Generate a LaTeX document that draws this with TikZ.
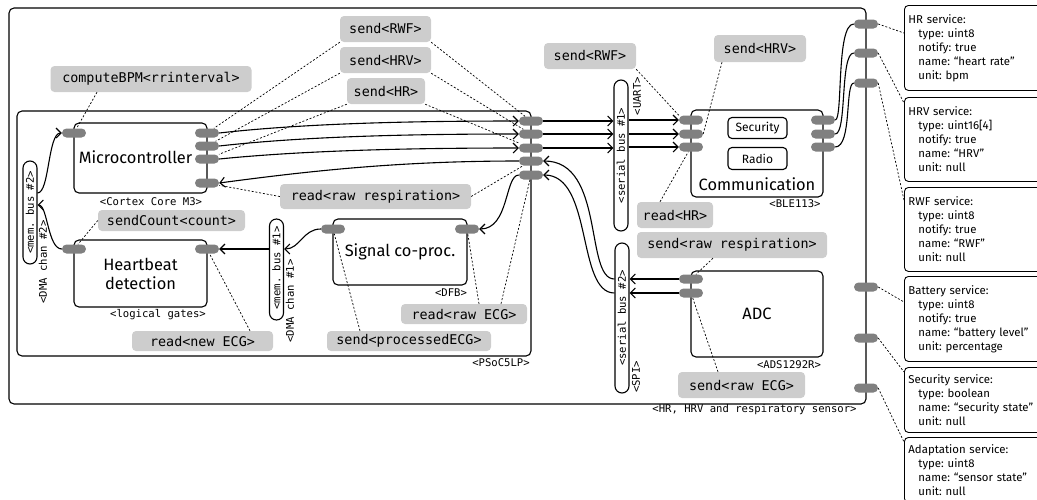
\documentclass[tikz,border=0pt]{standalone}
\usepackage{fontspec}
\setmainfont{Fira Sans}
\setmonofont{DejaVu Sans Mono}
\usetikzlibrary{arrows.meta,calc}
\definecolor{portgray}{RGB}{128,128,128}
\definecolor{lblgray}{RGB}{205,205,205}
\newcommand\svind{\hspace*{10pt}}
\frenchspacing
\begin{document}
\begin{tikzpicture}[x=1pt,y=-1pt,
  every node/.style={inner sep=0pt},
  box/.style={draw,line width=1.1pt,rounded corners=5pt},
  bus/.style={draw,line width=1.1pt,rounded corners=7pt,minimum width=14pt},
  port/.style={fill=portgray,rounded corners=4.5pt,minimum width=24pt,minimum height=9pt},
  lbl/.style={fill=lblgray,rounded corners=4pt,font=\fontsize{13.4}{16}\selectfont\ttfamily},
  tag/.style={font=\fontsize{10.6}{12}\selectfont\ttfamily},
  big/.style={font=\fontsize{16.4}{19}\selectfont},
  small/.style={font=\fontsize{12}{14}\selectfont},
  svc/.style={draw,line width=0.9pt,rounded corners=4pt,align=left,text width=150pt,inner xsep=4pt,anchor=north west,font=\fontsize{11.4}{14}\selectfont\frenchspacing},
  conn/.style={line width=1.1pt,-{Straight Barb[length=5pt,width=10pt]}},
  wire/.style={line width=1.1pt},
  dots/.style={line width=0.7pt,dash pattern=on 2pt off 1.8pt},
]
\useasboundingbox (0,0) rectangle (1037,499);
\clip (0,0) rectangle (1037,499);

% boxes
\node[box,minimum width=857pt,minimum height=396pt] (sensor) at (437.5,206) {};
\node[box,minimum width=514pt,minimum height=245pt] (psoc) at (274,233.5) {};
\node[box,minimum width=133pt,minimum height=70pt] (mcu) at (140.5,158) {};
\node[big] (mcutxt) at (135.5,157) {Microcontroller};
\node[box,big,align=center,minimum width=133pt,minimum height=67pt] (hb) at (140.5,273.5) {Heartbeat\\detection};
\node[box,big,minimum width=134pt,minimum height=66pt] (sig) at (400,252) {Signal co-proc.};
\node[box,minimum width=132pt,minimum height=87pt] (comm) at (757,153.5) {};
\node[big] (commtxt) at (757,184) {Communication};
\node[box,small,rounded corners=4pt,minimum width=59pt,minimum height=21pt] (secu) at (757.5,128) {Security};
\node[box,small,rounded corners=4pt,minimum width=59pt,minimum height=22pt] (radio) at (757.5,158.5) {Radio};
\node[box,big,minimum width=132pt,minimum height=86pt] (adc) at (757,314) {ADC};

% buses
\node[bus,minimum height=103pt] (mb2) at (30,212.5) {};
\node[bus,minimum height=101pt] (mb1) at (276.5,269.5) {};
\node[bus,minimum height=151pt] (sb1) at (621,155.5) {};
\node[bus,minimum height=150pt] (sb2) at (622,318) {};

% rotated tags
\node[tag,rotate=90] (tmb2) at (30,212.5) {<mem. bus \#2>};
\node[tag,rotate=90] (tdma2) at (43,262) {<DMA chan \#2>};
\node[tag,rotate=90] (tmb1) at (276.5,268) {<mem. bus \#1>};
\node[tag,rotate=90] (tdma1) at (290,301) {<DMA chan \#1>};
\node[tag,rotate=90] (tsb1) at (621,155.5) {<serial bus \#1>};
\node[tag,rotate=90] (tuart) at (637,96) {<UART>};
\node[tag,rotate=90] (tsb2) at (622,318) {<serial bus \#2>};
\node[tag,rotate=90] (tspi) at (636,377) {<SPI>};

% tags under boxes
\node[tag] (tmcu) at (151,202) {<Cortex Core M3>};
\node[tag] (thb) at (158,315) {<logical gates>};
\node[tag] (tsig) at (451,293) {<DFB>};
\node[tag] (tpsoc) at (501,363) {<PSoC5LP>};
\node[tag] (tcomm) at (795,204) {<BLE113>};
\node[tag] (tadc) at (789,365) {<ADS1292R>};
\node[tag] (tsensor) at (754.5,410) {<HR, HRV and respiratory sensor>};

% message labels
\node[lbl,minimum width=201pt,minimum height=26pt] (l1) at (151,79) {computeBPM<rrinterval>};
\node[lbl,minimum width=91pt,minimum height=26pt] (l2) at (385.5,29) {send<RWF>};
\node[lbl,minimum width=91pt,minimum height=26pt] (l3) at (385.5,60) {send<HRV>};
\node[lbl,minimum width=78pt,minimum height=26pt] (l4) at (386,91) {send<HR>};
\node[lbl,minimum width=92pt,minimum height=26pt] (l5) at (590,56) {send<RWF>};
\node[lbl,minimum width=92pt,minimum height=27pt] (l6) at (760,48.5) {send<HRV>};
\node[lbl,minimum width=191pt,minimum height=25pt] (l7) at (375.5,196.5) {read<raw respiration>};
\node[lbl,minimum width=76pt,minimum height=26pt] (l8) at (675,215) {read<HR>};
\node[lbl,minimum width=190pt,minimum height=26pt] (l9) at (732,245) {send<raw respiration>};
\node[lbl,minimum width=147pt,minimum height=21pt] (l10) at (171.5,220.5) {sendCount<count>};
\node[lbl,minimum width=126pt,minimum height=20pt] (l11) at (464,314) {read<raw ECG>};
\node[lbl,minimum width=164pt,minimum height=20pt] (l12) at (409,341) {send<processedECG>};
\node[lbl,minimum width=141pt,minimum height=20pt] (l13) at (202.5,341) {read<new ECG>};
\node[lbl,minimum width=127pt,minimum height=26pt] (l14) at (741.5,385) {send<raw ECG>};

% service boxes
\node[svc,minimum height=85pt] (s1) at (904,5) {HR service:\\\svind type: uint8\\\svind notify: true\\\svind name: “heart rate”\\\svind unit: bpm};
\node[svc,minimum height=84pt] (s2) at (904,97) {HRV service:\\\svind type: uint16[4]\\\svind notify: true\\\svind name: “HRV”\\\svind unit: null};
\node[svc,minimum height=84pt] (s3) at (904,187) {RWF service:\\\svind type: uint8\\\svind notify: true\\\svind name: “RWF”\\\svind unit: null};
\node[svc,minimum height=85pt] (s4) at (904,276) {Battery service:\\\svind type: uint8\\\svind notify: true\\\svind name: “battery level”\\\svind unit: percentage};
\node[svc,minimum height=65pt] (s5) at (904,367) {Security service:\\\svind type: boolean\\\svind name: “security state”\\\svind unit: null};
\node[svc,minimum height=65pt] (s6) at (904,437) {Adaptation service:\\\svind type: uint8\\\svind name: “sensor state”\\\svind unit: null};

% ports
\node[port] (mL) at (74,133) {};
\node[port] (mR1) at (207,133) {};
\node[port] (mR2) at (207,146) {};
\node[port] (mR3) at (207,159) {};
\node[port] (mR4) at (207,183) {};
\node[port] (p1) at (531,121) {};
\node[port] (p2) at (531,134) {};
\node[port] (p3) at (531,148) {};
\node[port] (p4) at (531,161) {};
\node[port] (p5) at (531,175) {};
\node[port] (cL1) at (691,120) {};
\node[port] (cL2) at (691,134) {};
\node[port] (cL3) at (691,147) {};
\node[port] (cR1) at (823,120) {};
\node[port] (cR2) at (823,134) {};
\node[port] (cR3) at (823,147) {};
\node[port] (o1) at (866,24) {};
\node[port] (o2) at (866,53) {};
\node[port] (o3) at (866,83) {};
\node[port] (o4) at (866,287) {};
\node[port] (o5) at (866,338) {};
\node[port] (o6) at (866,388) {};
\node[port] (aL1) at (691,279) {};
\node[port] (aL2) at (691,293) {};
\node[port] (hL) at (74,249) {};
\node[port] (hR) at (207,249) {};
\node[port] (sL) at (333,229) {};
\node[port] (sR) at (467,229) {};

% connectors
\draw[conn] (mR1.east) .. controls +(80,-9) and +(-120,0) .. (p1.west);
\draw[conn] (mR2.east) .. controls +(80,-9) and +(-120,0) .. (p2.west);
\draw[conn] (mR3.east) .. controls +(80,-8) and +(-120,0) .. (p3.west);
\draw[conn] (p4.west) .. controls +(-120,0) and +(90,-12) .. (mR4.east);
\draw[conn] (p1.east) -- (p1.east -| sb1.west);
\draw[conn] (p2.east) -- (p2.east -| sb1.west);
\draw[conn] (p3.east) -- (p3.east -| sb1.west);
\draw[conn] (sb1.east |- cL1.west) -- (cL1.west);
\draw[conn] (sb1.east |- cL2.west) -- (cL2.west);
\draw[conn] (sb1.east |- cL3.west) -- (cL3.west);
\draw[wire] (cR1.east) .. controls +(8,0) and +(-18,0) .. (o1.west);
\draw[wire] (cR2.east) .. controls +(12,0) and +(-14,0) .. (o2.west);
\draw[wire] (cR3.east) .. controls +(17,0) and +(-9,0) .. (o3.west);
\draw[conn] (aL1.west) -- (aL1.west -| sb2.east);
\draw[conn] (aL2.west) -- (aL2.west -| sb2.east);
\draw[conn] (aL1.west -| sb2.west) .. controls +(-30,0) and +(62,0) .. (p4.east);
\draw[conn] (aL2.west -| sb2.west) .. controls +(-38,0) and +(50,0) .. (p5.east);
\draw[conn] (p5.west) .. controls +(-14,0) and +(30,0) .. (sR.east);
\draw[conn] (sL.west) .. controls +(-18,0) and +(16,0) .. (hR.east -| mb1.east);
\draw[conn] (hR.east -| mb1.west) -- (hR.east);
\draw[conn] (hL.west) .. controls +(-14,0) and +(10,0) .. ([yshift=7.5pt]mb2.east);
\draw[conn] ([yshift=19.5pt]mb2.east) .. controls +(12,0) and +(-14,0) .. (mL.west);

% dotted links
\draw[dots] ([xshift=-54pt]l1.south) -- (mL);
\draw[dots] (l2.south west) -- (mR1);
\draw[dots] (l3.south west) -- (mR2);
\draw[dots] (l4.south west) -- (mR3);
\draw[dots] (l2.south east) -- (p1);
\draw[dots] (l3.south east) -- (p2);
\draw[dots] (l4.south east) -- (p3);
\draw[dots] (l5.south east) -- (cL1.north west);
\draw[dots] ([xshift=-38pt]l6.south) -- (cL2.east);
\draw[dots] ([xshift=-15pt]l8.north) -- (cL3);
\draw[dots] (l7.west) -- (mR4);
\draw[dots] (l7.east) -- (p4);
\draw[dots] ([xshift=15pt]l11.north) -- (sR);
\draw[dots] ([xshift=37pt]l11.north) -- (p5);
\draw[dots] ([xshift=-49pt]l12.north) -- (sL);
\draw[dots] (l10.west) -- (hL);
\draw[dots] ([xshift=47.5pt]l13.north) -- (hR);
\draw[dots] ([xshift=-19pt]l9.south) -- (aL1);
\draw[dots] ([xshift=-23.5pt]l14.north) -- (aL2);
\draw[dots] (o1.east) -- ([yshift=-28pt]s1.north west);
\draw[dots] (o2.east) -- ([yshift=-6pt]s2.north west);
\draw[dots] (o3.east) -- ([yshift=-13pt]s3.north west);
\draw[dots] (o4.east) -- ([yshift=-26pt]s4.north west);
\draw[dots] (o5.east) -- ([yshift=-5pt]s5.north west);
\draw[dots] (o6.east) -- ([yshift=-5pt]s6.north west);
\end{tikzpicture}
\end{document}
